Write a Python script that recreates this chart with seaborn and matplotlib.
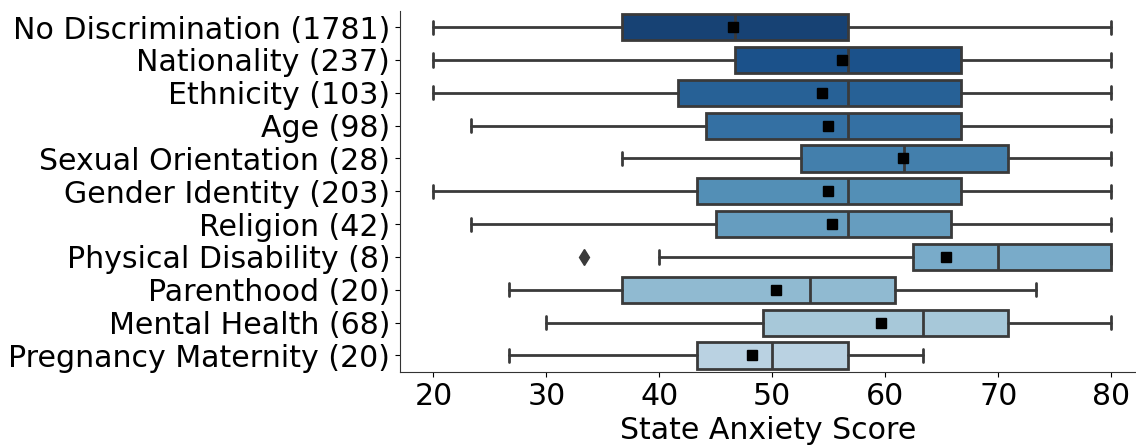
import matplotlib
matplotlib.use("Agg")
import matplotlib.pyplot as plt
import seaborn as sns

# ------------------------------
# data (summary stats per group)
# ------------------------------
groups = ["No Discrimination (1781)", "Nationality (237)", "Ethnicity (103)", "Age (98)",
          "Sexual Orientation (28)", "Gender Identity (203)", "Religion (42)",
          "Physical Disability (8)", "Parenthood (20)", "Mental Health (68)",
          "Pregnancy Maternity (20)"]
whis_lo = [20.0, 20.0, 20.0, 23.33, 36.67, 20.0, 23.33, 40.0, 26.67, 30.0, 26.67]
q1 = [36.67, 46.67, 41.67, 44.17, 52.5, 43.33, 45.0, 62.5, 36.67, 49.17, 43.33]
median = [46.67, 56.67, 56.67, 56.67, 61.67, 56.67, 56.67, 70.0, 53.33, 63.33, 50.0]
q3 = [56.67, 66.67, 66.67, 66.67, 70.83, 66.67, 65.83, 80.0, 60.83, 70.83, 56.67]
whis_hi = [80.0, 80.0, 80.0, 80.0, 80.0, 80.0, 80.0, 80.0, 73.33, 80.0, 63.33]
means = [46.5, 56.2, 54.4, 54.9, 61.6, 54.9, 55.3, 65.4, 50.3, 59.6, 48.2]
outliers = [[], [], [], [], [], [], [], [33.33], [], [], []]

stats = []
for i in range(len(groups)):
    stats.append({"label": groups[i], "whislo": whis_lo[i], "q1": q1[i], "med": median[i],
                  "q3": q3[i], "whishi": whis_hi[i], "mean": means[i], "fliers": outliers[i]})

# ------------------------------
# plot
# ------------------------------
sns.set_style("ticks", {"text.color": "black", "axes.labelcolor": "black",
                        "xtick.color": "black", "ytick.color": "black",
                        "axes.edgecolor": "#333333"})
plt.rcParams["font.family"] = ["DejaVu Sans"]
colors = sns.color_palette("Blues_r", 15, desat=0.75)[:len(groups)]
gray = "#3a3a3a"

fig = plt.figure(figsize=(11.36, 4.47), dpi=100)
ax = fig.add_axes([0.352, 0.168, 0.648, 0.808])

bp = ax.bxp(stats, positions=range(len(groups)), widths=0.8, orientation="horizontal",
            patch_artist=True, showmeans=True,
            boxprops=dict(edgecolor=gray, linewidth=2),
            whiskerprops=dict(color=gray, linewidth=2),
            capprops=dict(color=gray, linewidth=2),
            medianprops=dict(color=gray, linewidth=2),
            meanprops=dict(marker="s", markerfacecolor="black", markeredgecolor="black",
                           markersize=7),
            flierprops=dict(marker="d", markerfacecolor=gray, markeredgecolor=gray,
                            markersize=8))
for patch, c in zip(bp["boxes"], colors):
    patch.set_facecolor(c)

ax.set_ylim(len(groups) - 0.5, -0.5)
ax.set_xlim(17.03, 82.2)
ax.set_yticks(range(len(groups)))
ax.set_yticklabels(groups)
ax.set_xticks([20, 30, 40, 50, 60, 70, 80])
ax.tick_params(labelsize=21.6)
ax.set_xlabel("State Anxiety Score", fontsize=21.6)
sns.despine(ax=ax)

fig.savefig("out.png", dpi=100)
